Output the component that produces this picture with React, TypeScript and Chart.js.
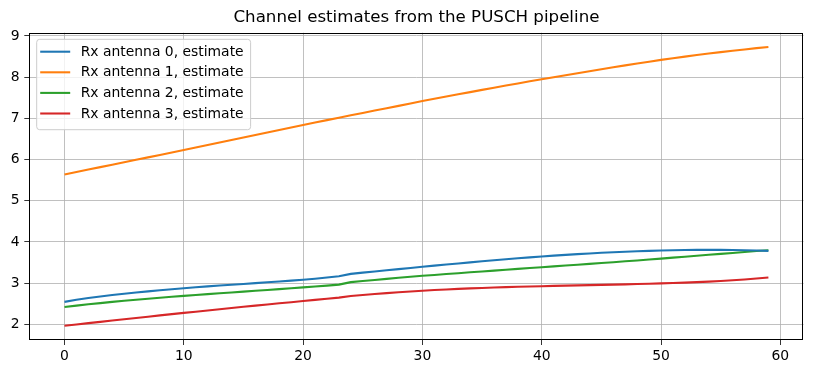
import React, { useEffect, useRef } from "react";
import { Chart, registerables } from "chart.js";

Chart.register(...registerables);

const chartTitle = "Channel estimates from the PUSCH pipeline";
const seriesLabels = [
  "Rx antenna 0, estimate",
  "Rx antenna 1, estimate",
  "Rx antenna 2, estimate",
  "Rx antenna 3, estimate",
];
const seriesColors = ["#1f77b4", "#ff7f0e", "#2ca02c", "#d62728"];

const xTickValues = [0, 10, 20, 30, 40, 50, 60];
const yTickValues = [2, 3, 4, 5, 6, 7, 8, 9];

const antenna0 = [
  2.545, 2.595, 2.64, 2.678, 2.712, 2.743, 2.772, 2.8, 2.827, 2.853,
  2.878, 2.9, 2.921, 2.941, 2.961, 2.981, 3.0, 3.02, 3.04, 3.061,
  3.083, 3.108, 3.136, 3.168, 3.225, 3.255, 3.284, 3.312, 3.34, 3.369,
  3.397, 3.425, 3.452, 3.479, 3.505, 3.53, 3.555, 3.579, 3.603, 3.626,
  3.648, 3.668, 3.687, 3.705, 3.722, 3.737, 3.751, 3.763, 3.774, 3.784,
  3.792, 3.799, 3.804, 3.807, 3.808, 3.807, 3.804, 3.799, 3.792, 3.783,
];
const antenna1 = [
  5.64, 5.699, 5.758, 5.817, 5.876, 5.935, 5.994, 6.053, 6.112, 6.171,
  6.23, 6.291, 6.352, 6.413, 6.474, 6.535, 6.596, 6.657, 6.718, 6.779,
  6.84, 6.899, 6.958, 7.016, 7.074, 7.132, 7.19, 7.247, 7.304, 7.362,
  7.42, 7.475, 7.53, 7.584, 7.638, 7.692, 7.745, 7.797, 7.849, 7.9,
  7.95, 7.999, 8.048, 8.097, 8.145, 8.193, 8.24, 8.2865, 8.332, 8.377,
  8.42, 8.461, 8.5, 8.538, 8.574, 8.609, 8.642, 8.674, 8.705, 8.735,
];
const antenna2 = [
  2.42, 2.454, 2.486, 2.516, 2.545, 2.572, 2.598, 2.623, 2.647, 2.67,
  2.692, 2.713, 2.734, 2.754, 2.774, 2.794, 2.814, 2.834, 2.855, 2.876,
  2.897, 2.918, 2.94, 2.965, 3.025, 3.052, 3.078, 3.104, 3.13, 3.155,
  3.178, 3.2, 3.221, 3.242, 3.263, 3.284, 3.305, 3.326, 3.347, 3.368,
  3.388, 3.408, 3.428, 3.448, 3.468, 3.488, 3.509, 3.53, 3.552, 3.574,
  3.596, 3.619, 3.642, 3.665, 3.688, 3.711, 3.734, 3.757, 3.779, 3.8,
];
const antenna3 = [
  1.965, 1.997, 2.029, 2.06, 2.092, 2.123, 2.155, 2.186, 2.217, 2.248,
  2.278, 2.308, 2.338, 2.367, 2.396, 2.425, 2.454, 2.482, 2.51, 2.538,
  2.566, 2.594, 2.621, 2.648, 2.69, 2.714, 2.737, 2.758, 2.778, 2.797,
  2.815, 2.832, 2.847, 2.861, 2.873, 2.884, 2.894, 2.903, 2.911, 2.919,
  2.926, 2.933, 2.94, 2.946, 2.952, 2.958, 2.964, 2.971, 2.978, 2.986,
  2.994, 3.003, 3.013, 3.025, 3.038, 3.053, 3.07, 3.09, 3.113, 3.138,
];
const seriesValues = [antenna0, antenna1, antenna2, antenna3];

const FONT = "DejaVu Sans";
const TICK_FONT = { family: FONT, size: 13.9 };

const framePlugin = {
  id: "frameAndLegend",
  afterDraw(chart: any) {
    const { ctx, chartArea } = chart;
    ctx.save();
    // spines
    ctx.strokeStyle = "#000";
    ctx.lineWidth = 1;
    ctx.strokeRect(
      Math.round(chartArea.left) + 0.5,
      Math.round(chartArea.top) + 0.5,
      Math.round(chartArea.right - chartArea.left) - 1,
      Math.round(chartArea.bottom - chartArea.top) - 1
    );
    // legend
    ctx.font = `13.9px "${FONT}"`;
    const datasets = chart.data.datasets;
    let maxW = 0;
    datasets.forEach((d: any) => {
      maxW = Math.max(maxW, ctx.measureText(d.label).width);
    });
    const bx = chartArea.left + 7.4;
    const by = chartArea.top + 6.6;
    const rowH = 20.6;
    const textX = bx + 44;
    const bw = textX - bx + maxW + 7;
    const bh = 10 + rowH * datasets.length - 2;
    const r = 3;
    ctx.beginPath();
    ctx.moveTo(bx + r, by);
    ctx.lineTo(bx + bw - r, by);
    ctx.quadraticCurveTo(bx + bw, by, bx + bw, by + r);
    ctx.lineTo(bx + bw, by + bh - r);
    ctx.quadraticCurveTo(bx + bw, by + bh, bx + bw - r, by + bh);
    ctx.lineTo(bx + r, by + bh);
    ctx.quadraticCurveTo(bx, by + bh, bx, by + bh - r);
    ctx.lineTo(bx, by + r);
    ctx.quadraticCurveTo(bx, by, bx + r, by);
    ctx.closePath();
    ctx.fillStyle = "rgba(255,255,255,0.8)";
    ctx.fill();
    ctx.strokeStyle = "#cccccc";
    ctx.lineWidth = 1;
    ctx.stroke();
    datasets.forEach((d: any, i: number) => {
      const cy = by + 12.4 + i * rowH;
      ctx.strokeStyle = d.borderColor;
      ctx.lineWidth = 2.08;
      ctx.beginPath();
      ctx.moveTo(bx + 3.5, cy);
      ctx.lineTo(bx + 33.5, cy);
      ctx.stroke();
      ctx.fillStyle = "#000";
      ctx.textBaseline = "middle";
      ctx.textAlign = "left";
      ctx.fillText(d.label, textX, cy + 0.5);
    });
    ctx.restore();
  },
};

export default function App() {
  const ref = useRef<HTMLCanvasElement>(null);
  useEffect(() => {
    if (!ref.current) return;
    const chart = new Chart(ref.current, {
      type: "line",
      data: {
        datasets: seriesLabels.map((label, k) => ({
          label,
          data: seriesValues[k].map((y, i) => ({ x: i, y })),
          borderColor: seriesColors[k],
          backgroundColor: seriesColors[k],
          borderWidth: 2.08,
          pointRadius: 0,
          fill: false,
          tension: 0,
        })),
      },
      options: {
        responsive: false,
        animation: false,
        devicePixelRatio: 1,
        layout: { padding: { left: 0, right: 9.4, top: 0, bottom: 0 } },
        plugins: {
          legend: { display: false },
          tooltip: { enabled: false },
          title: {
            display: true,
            text: chartTitle,
            fullSize: false,
            color: "#000",
            font: { family: FONT, size: 16.67, weight: "normal", lineHeight: 1.2 },
            padding: { top: 8, bottom: 4.7 },
          },
        },
        scales: {
          x: {
            type: "linear",
            min: -2.95,
            max: 61.95,
            afterBuildTicks: (s: any) => {
              s.ticks = xTickValues.map((v) => ({ value: v }));
            },
            afterFit: (s: any) => {
              s.height = 34;
            },
            grid: {
              color: "#b0b0b0",
              lineWidth: 0.8,
              tickColor: "#000",
              tickLength: 5,
              tickWidth: 0.8,
            },
            border: { display: false },
            ticks: {
              font: TICK_FONT,
              color: "#000",
              padding: 3,
              maxRotation: 0,
              autoSkip: false,
            },
          },
          y: {
            type: "linear",
            min: 1.62,
            max: 9.08,
            afterBuildTicks: (s: any) => {
              s.ticks = yTickValues.map((v) => ({ value: v }));
            },
            afterFit: (s: any) => {
              s.width = 29.3;
            },
            grid: {
              color: "#b0b0b0",
              lineWidth: 0.8,
              tickColor: "#000",
              tickLength: 5,
              tickWidth: 0.8,
            },
            border: { display: false },
            ticks: {
              font: TICK_FONT,
              color: "#000",
              padding: 4.8,
              autoSkip: false,
            },
          },
        },
      },
      plugins: [framePlugin],
    } as any);
    return () => chart.destroy();
  }, []);
  return (
    <canvas
      ref={ref}
      width={813}
      height={374}
      style={{ position: "absolute", left: 0, top: 0, display: "block", width: 813, height: 374 }}
    />
  );
}
